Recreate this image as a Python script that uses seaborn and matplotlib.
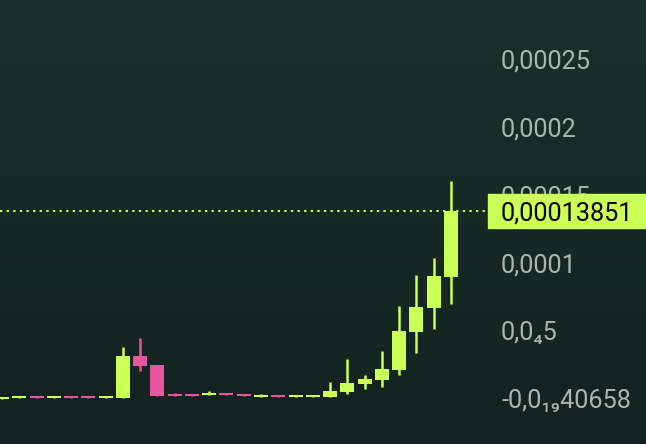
import numpy as np
import matplotlib
matplotlib.use("Agg")
import matplotlib.pyplot as plt
import matplotlib.transforms as mtransforms
from matplotlib.patches import Rectangle
from matplotlib.colors import LinearSegmentedColormap
import seaborn as sns

# --- Data (prices in units of 1e-5) ---
opens = [0.00, 0.07, 0.22, 0.07, 0.22, 0.22, 0.07, 0.07, 3.16, 2.50,
         0.37, 0.37, 0.29, 0.44, 0.37, 0.15, 0.29, 0.15, 0.15, 0.15,
         0.51, 1.10, 1.40, 2.13, 4.92, 6.69, 8.97]
closes = [0.15, 0.22, 0.07, 0.22, 0.07, 0.07, 0.22, 3.16, 2.43, 0.22,
          0.22, 0.22, 0.44, 0.29, 0.22, 0.29, 0.15, 0.29, 0.29, 0.59,
          1.18, 1.47, 2.21, 4.99, 6.76, 9.04, 13.851]
highs = [0.15, 0.22, 0.22, 0.22, 0.22, 0.22, 0.22, 3.82, 4.48, 2.50,
         0.44, 0.37, 0.59, 0.44, 0.37, 0.37, 0.29, 0.29, 0.29, 1.25,
         2.94, 1.76, 3.53, 6.84, 9.11, 10.36, 16.02]
lows = [0.00, 0.07, 0.07, 0.07, 0.07, 0.07, 0.07, 0.07, 2.06, 0.22,
        0.22, 0.22, 0.29, 0.29, 0.22, 0.15, 0.15, 0.15, 0.15, 0.15,
        0.37, 0.73, 0.88, 1.76, 3.38, 5.15, 6.99]

tick_values = [0, 5e-5, 1e-4, 1.5e-4, 2e-4, 2.5e-4, 3e-4]
tick_labels = ["-0,0\u2081\u208940658", "0,0\u20845",
               "0,0001", "0,00015", "0,0002", "0,00025", "0,0003"]
last_price_label = "0,00013851"

# --- Style ---
GREEN = "#CCFF55"
PINK = "#E8559F"
TEXT = "#A8B6AF"
FONT_SIZE = 18.2

sns.set_style("dark")
plt.rcParams["font.family"] = ["Roboto", "DejaVu Sans"]

scale = 1e-5
o = np.array(opens) * scale
c = np.array(closes) * scale
h = np.array(highs) * scale
l = np.array(lows) * scale
x = np.arange(len(o))
colors = [GREEN if cc >= oo else PINK for oo, cc in zip(o, c)]

Y0, Y1 = -3.31e-5, 29.33e-5

fig = plt.figure(figsize=(6.46, 4.44), dpi=100)

# background gradient
bg = fig.add_axes([0, 0, 1, 1])
cmap = LinearSegmentedColormap.from_list("bg", ["#142220", "#19302A"])
bg.imshow(np.linspace(0, 1, 256).reshape(-1, 1), aspect="auto", cmap=cmap,
          origin="lower", extent=[0, 1, 0, 1])
bg.axis("off")

ax = fig.add_axes([0, 0, 490 / 646, 1])
ax.set_facecolor("none")
ax.set_zorder(1)

ax.vlines(x, l, h, colors=colors, lw=1.8, zorder=2)
ax.bar(x, np.abs(c - o), bottom=np.minimum(o, c), width=0.81,
       color=colors, linewidth=0, zorder=3)

ax.axhline(c[-1], color=GREEN, lw=1.4, ls=(0, (1.2, 2.2)), zorder=1)

ax.yaxis.tick_right()
ax.set_yticks(tick_values)
ax.set_yticklabels(tick_labels)
ax.tick_params(axis="y", length=0, pad=8, labelsize=FONT_SIZE, labelcolor=TEXT)
ax.set_xticks([])
for s in ax.spines.values():
    s.set_visible(False)
ax.grid(False)

# limits after ticks (set_yticks widens the view otherwise)
ax.set_xlim(-0.116, 28.26)
ax.set_ylim(Y0, Y1)

# last price tag
trans = mtransforms.blended_transform_factory(fig.transFigure, ax.transData)
box_h = 34 / 444 * (Y1 - Y0)
ax.add_patch(Rectangle((488 / 646, c[-1] - box_h / 2), 1, box_h,
                       transform=trans, color=GREEN, clip_on=False, zorder=5))
ax.text(501 / 646, c[-1], last_price_label, transform=trans, ha="left",
        va="center_baseline", color="black", fontsize=FONT_SIZE, zorder=6,
        clip_on=False)

fig.savefig("out.png", dpi=100)
